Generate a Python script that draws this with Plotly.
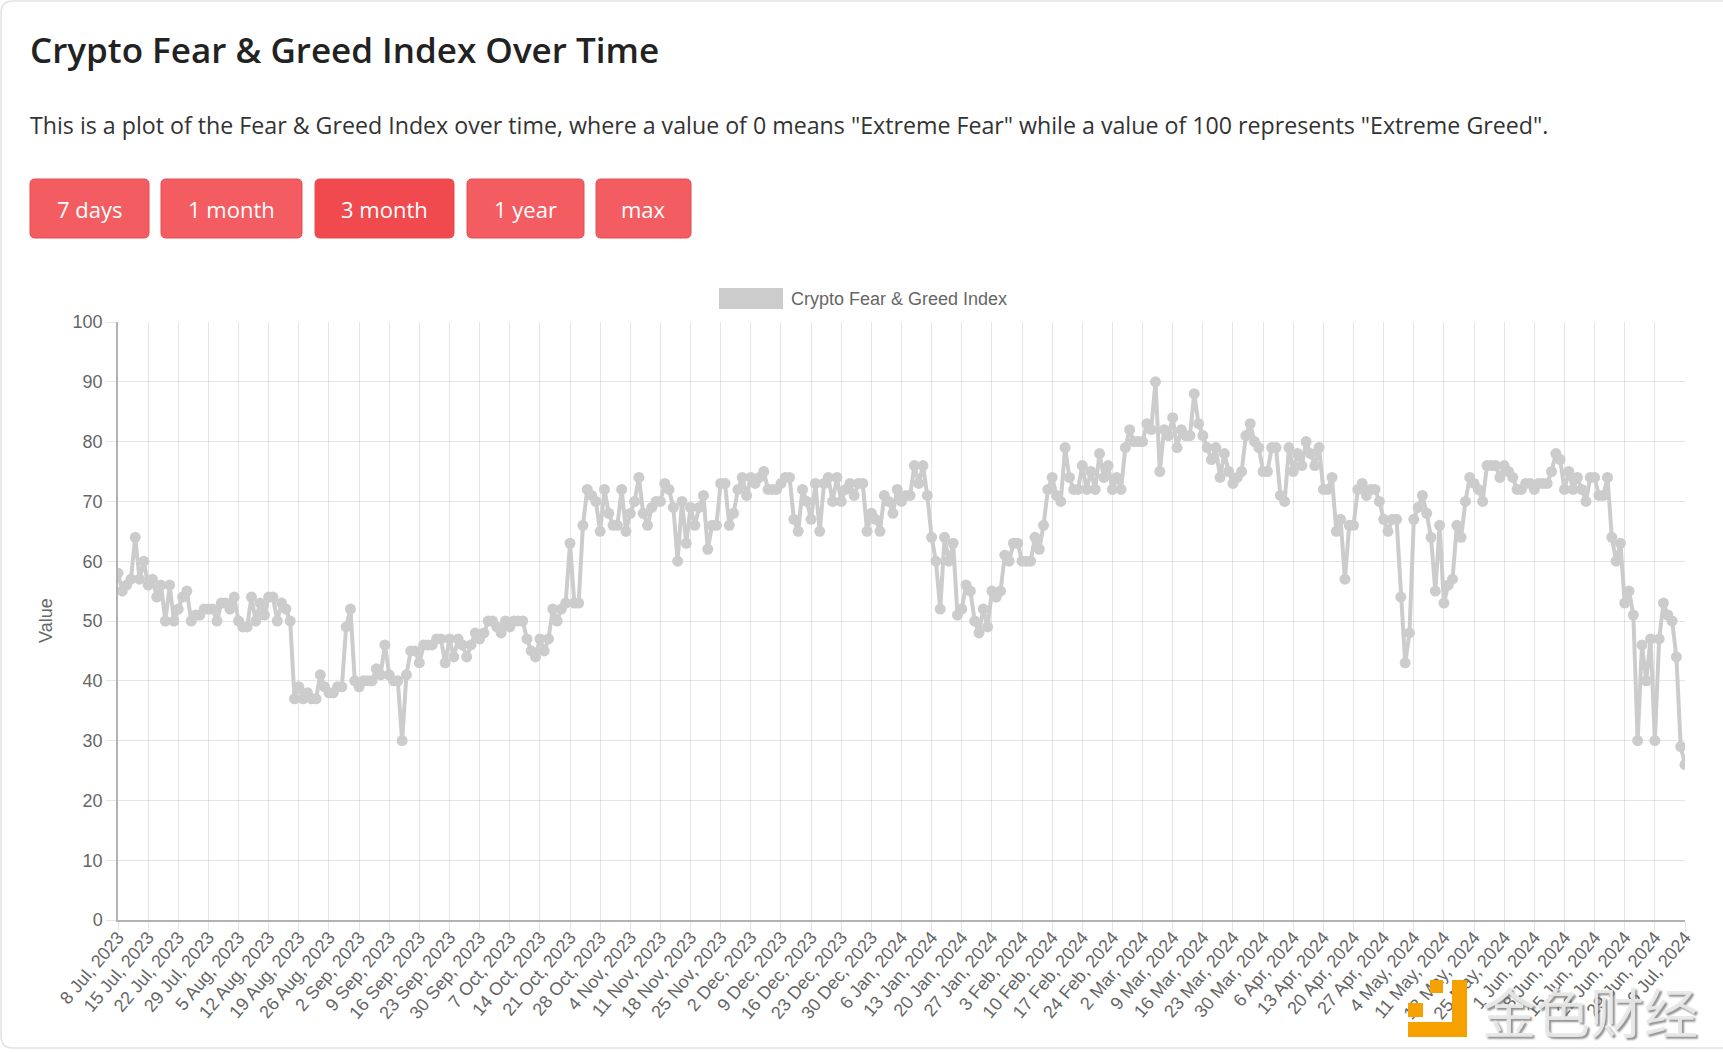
import pandas as pd
import plotly.graph_objects as go

# ---------------- data ----------------
start_date = "2023-07-08"
end_date = "2024-07-06"
dates = pd.date_range(start_date, end_date, freq="D")
date_labels = [f"{d.day} {d.strftime('%b')}, {d.year}" for d in dates]

fng_values = [
    58, 55, 56, 57, 64, 57, 60,
    56, 57, 54, 56, 50, 56, 50,
    52, 54, 55, 50, 51, 51, 52,
    52, 52, 50, 53, 53, 52, 54,
    50, 49, 49, 54, 50, 53, 51,
    54, 54, 50, 53, 52, 50, 37,
    39, 37, 38, 37, 37, 41, 39,
    38, 38, 39, 39, 49, 52, 40,
    39, 40, 40, 40, 42, 41, 46,
    41, 40, 40, 30, 41, 45, 45,
    43, 46, 46, 46, 47, 47, 43,
    47, 44, 47, 46, 44, 46, 48,
    47, 48, 50, 50, 49, 48, 50,
    49, 50, 50, 50, 47, 45, 44,
    47, 45, 47, 52, 50, 52, 53,
    63, 53, 53, 66, 72, 71, 70,
    65, 72, 68, 66, 66, 72, 65,
    68, 70, 74, 68, 66, 69, 70,
    70, 73, 72, 69, 60, 70, 63,
    69, 66, 69, 71, 62, 66, 66,
    73, 73, 66, 68, 72, 74, 71,
    74, 73, 74, 75, 72, 72, 72,
    73, 74, 74, 67, 65, 72, 70,
    67, 73, 65, 73, 74, 70, 74,
    70, 72, 73, 71, 73, 73, 65,
    68, 67, 65, 71, 70, 68, 72,
    70, 71, 71, 76, 73, 76, 71,
    64, 60, 52, 64, 60, 63, 51,
    52, 56, 55, 50, 48, 52, 49,
    55, 54, 55, 61, 60, 63, 63,
    60, 60, 60, 64, 62, 66, 72,
    74, 71, 70, 79, 74, 72, 72,
    76, 72, 75, 72, 78, 74, 76,
    72, 74, 72, 79, 82, 80, 80,
    80, 83, 82, 90, 75, 82, 81,
    84, 79, 82, 81, 81, 88, 83,
    81, 79, 77, 79, 74, 78, 75,
    73, 74, 75, 81, 83, 80, 79,
    75, 75, 79, 79, 71, 70, 79,
    75, 78, 76, 80, 78, 76, 79,
    72, 72, 74, 65, 67, 57, 66,
    66, 72, 73, 71, 72, 72, 70,
    67, 65, 67, 67, 54, 43, 48,
    67, 69, 71, 68, 64, 55, 66,
    53, 56, 57, 66, 64, 70, 74,
    73, 72, 70, 76, 76, 76, 74,
    76, 75, 74, 72, 72, 73, 73,
    72, 73, 73, 73, 75, 78, 77,
    72, 75, 72, 74, 72, 70, 74,
    74, 71, 71, 74, 64, 60, 63,
    53, 55, 51, 30, 46, 40, 47,
    30, 47, 53, 51, 50, 44, 29,
    26,
]
tick_labels = date_labels[::7]
y_ticks = list(range(0, 101, 10))

series_name = "Crypto Fear & Greed Index"
page_title = "Crypto Fear & Greed Index Over Time"
page_text = ('This is a plot of the Fear & Greed Index over time, where a value of 0 means '
             '"Extreme Fear" while a value of 100 represents "Extreme Greed".')
button_labels = ["7 days", "1 month", "3 month", "1 year", "max"]

# ---------------- layout helpers ----------------
W, H = 1723, 1053
ML, MR, MT, MB = 118, 38, 322, 133
PW = W - ML - MR
PH = H - MT - MB


def fx(px):
    return (px - ML) / PW


def fy(py):
    return (H - MB - py) / PH


def rrect(x0, y0, x1, y1, r):
    pts = [
        f"M{fx(x0 + r)},{fy(y0)}",
        f"L{fx(x1 - r)},{fy(y0)}",
        f"Q{fx(x1)},{fy(y0)} {fx(x1)},{fy(y0 + r)}",
        f"L{fx(x1)},{fy(y1 - r)}",
        f"Q{fx(x1)},{fy(y1)} {fx(x1 - r)},{fy(y1)}",
        f"L{fx(x0 + r)},{fy(y1)}",
        f"Q{fx(x0)},{fy(y1)} {fx(x0)},{fy(y1 - r)}",
        f"L{fx(x0)},{fy(y0 + r)}",
        f"Q{fx(x0)},{fy(y0)} {fx(x0 + r)},{fy(y0)}",
        "Z",
    ]
    return " ".join(pts)


GRAY = "rgb(204,204,204)"
AXFONT = dict(family="Liberation Sans, Arial, sans-serif", size=18, color="#666666")
PAGEFONT = "Open Sans, Noto Sans, sans-serif"

fig = go.Figure()
fig.add_trace(go.Scatter(
    x=date_labels, y=fng_values, mode="lines+markers", name=series_name,
    line=dict(color=GRAY, width=4),
    marker=dict(size=11, color=GRAY),
    hoverinfo="x+y", showlegend=False,
))

shapes = []
annotations = []

# card border
shapes.append(dict(type="path", xref="paper", yref="paper",
                   path=rrect(1, 1, 1760, 1048, 12),
                   line=dict(color="#e2e2e2", width=1.5), fillcolor="rgba(0,0,0,0)",
                   layer="below"))

# title & text
annotations.append(dict(xref="paper", yref="paper", x=fx(28), y=fy(49), xanchor="left",
                        yanchor="middle", showarrow=False, text=page_title,
                        font=dict(family=PAGEFONT, size=35, color="#222222", weight=600)))
annotations.append(dict(xref="paper", yref="paper", x=fx(28), y=fy(125), xanchor="left",
                        yanchor="middle", showarrow=False, text=page_text,
                        font=dict(family=PAGEFONT, size=23.2, color="#333333")))

# buttons
btn_x = [(30, 149), (161, 302), (315, 454), (467, 584), (596, 691)]
for i, (lab, (x0, x1)) in enumerate(zip(button_labels, btn_x)):
    col = "#f04a4e" if i == 2 else "#f35c60"
    shapes.append(dict(type="path", xref="paper", yref="paper",
                       path=rrect(x0, 179, x1, 238, 5),
                       line=dict(color="#e34d51", width=1), fillcolor=col))
    annotations.append(dict(xref="paper", yref="paper", x=fx((x0 + x1) / 2), y=fy(209),
                            xanchor="center", yanchor="middle", showarrow=False, text=lab,
                            font=dict(family=PAGEFONT, size=22, color="#ffffff")))

# legend
shapes.append(dict(type="rect", xref="paper", yref="paper",
                   x0=fx(719), x1=fx(783), y0=fy(288), y1=fy(309),
                   line=dict(width=0), fillcolor=GRAY))
annotations.append(dict(xref="paper", yref="paper", x=fx(789), y=fy(298.5), xanchor="left",
                        yanchor="middle", showarrow=False, text=series_name, font=AXFONT))

# y axis title
annotations.append(dict(xref="paper", yref="paper", x=fx(46), y=fy(621), xanchor="center",
                        yanchor="middle", showarrow=False, text="Value", textangle=-90,
                        font=AXFONT))

# watermark
orange = "#f5a200"
for (x0, y0, x1, y1) in [(1430, 980, 1443, 993), (1408, 1003, 1423, 1017),
                         (1452, 980, 1467, 1037), (1408, 1022, 1467, 1037)]:
    shapes.append(dict(type="rect", xref="paper", yref="paper",
                       x0=fx(x0), x1=fx(x1), y0=fy(y0), y1=fy(y1),
                       line=dict(width=0), fillcolor=orange, layer="above"))
annotations.append(dict(xref="paper", yref="paper", x=fx(1480), y=fy(1010), xanchor="left",
                        yanchor="middle", showarrow=False, text="金色财经",
                        font=dict(family="Noto Sans CJK SC", size=54,
                                  color="rgba(232,232,232,0.95)",
                                  shadow="2px 2px 2px rgba(110,110,110,0.8)")))

fig.update_layout(
    width=W, height=H,
    margin=dict(l=ML, r=MR, t=MT, b=MB, autoexpand=False),
    paper_bgcolor="white", plot_bgcolor="white",
    shapes=shapes, annotations=annotations,
    showlegend=False,
    xaxis=dict(type="category", range=[0, len(date_labels) - 1], tickmode="array",
               tickvals=tick_labels, ticktext=tick_labels, tickangle=-50,
               showgrid=True, gridcolor="rgba(0,0,0,0.1)", gridwidth=1,
               ticks="outside", ticklen=10, tickcolor="rgba(0,0,0,0.1)",
               ticklabelstandoff=-12,
               showline=True, linecolor="rgba(0,0,0,0.3)", linewidth=1.5,
               tickfont=AXFONT, zeroline=False, automargin=False),
    yaxis=dict(range=[0, 100], tickmode="array", tickvals=y_ticks,
               showgrid=True, gridcolor="rgba(0,0,0,0.1)", gridwidth=1,
               ticks="outside", ticklen=10, tickcolor="rgba(0,0,0,0.1)",
               showline=True, linecolor="rgba(0,0,0,0.3)", linewidth=1.5,
               tickfont=AXFONT, zeroline=False, automargin=False),
)

fig.write_html("out.html", config={"displayModeBar": False},
               post_script="document.body.style.margin='0';document.body.style.overflow='hidden';")
